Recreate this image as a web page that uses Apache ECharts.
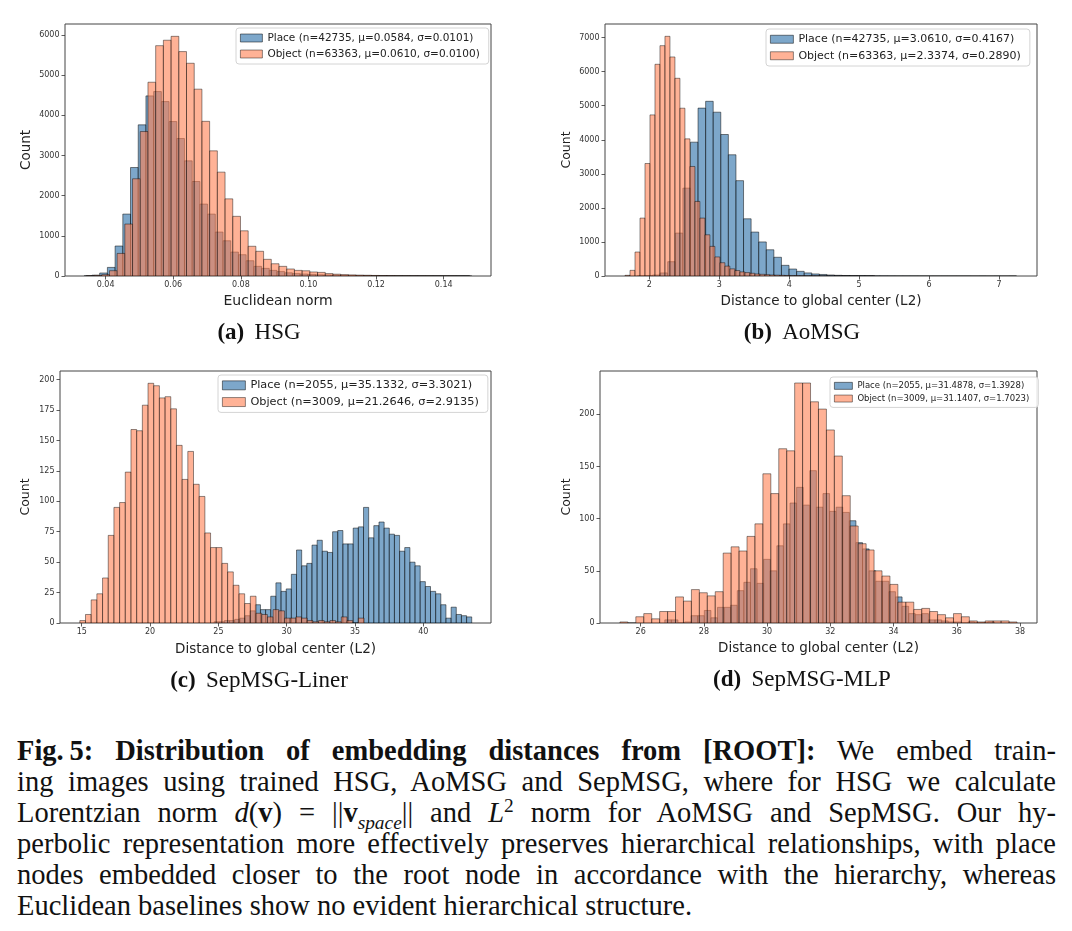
<!DOCTYPE html>
<html>
<head>
<meta charset="utf-8">
<title>Distribution of embedding distances from ROOT</title>
<script src="https://cdn.jsdelivr.net/npm/echarts@6/dist/echarts.min.js"></script>
<style>
  html, body { margin: 0; padding: 0; background: #fff; }
  #page { position: relative; width: 1072px; height: 931px; overflow: hidden; }
  #chart { position: absolute; left: 0; top: 0; width: 1072px; height: 700px; }
  .sub {
    position: absolute; transform: translate(-50%, -50%); white-space: nowrap;
    font-family: "Liberation Serif", serif; font-size: 23px; color: #111;
  }
  .sub b { margin-right: 0.45em; }
  #caption {
    position: absolute; left: 17px; top: 735px; width: 1039px;
    font-family: "Liberation Serif", serif; font-size: 28.5px; line-height: 31px; color: #111;
  }
  #caption div { text-align: justify; text-align-last: justify; }
  #caption div.last { text-align-last: left; }
  #caption sub, #caption sup { font-size: 0.68em; line-height: 0; }
</style>
</head>
<body>
<div id="page">
  <div id="chart"></div>
  <div class="sub" style="left:259px; top:332px;"><b>(a)</b>HSG</div>
  <div class="sub" style="left:802px; top:332px;"><b>(b)</b>AoMSG</div>
  <div class="sub" style="left:259px; top:680px;"><b>(c)</b>SepMSG-Liner</div>
  <div class="sub" style="left:802px; top:679px;"><b>(d)</b>SepMSG-MLP</div>
  <div id="caption">
    <div><b>Fig.&#8201;5: Distribution of embedding distances from [ROOT]:</b> We embed train-</div>
    <div>ing images using trained HSG, AoMSG and SepMSG, where for HSG we calculate</div>
    <div>Lorentzian norm <i>d</i>(<b>v</b>) = ||<b>v</b><sub><i>space</i></sub>|| and <i>L</i><sup>2</sup> norm for AoMSG and SepMSG. Our hy-</div>
    <div>perbolic representation more effectively preserves hierarchical relationships, with place</div>
    <div>nodes embedded closer to the root node in accordance with the hierarchy, whereas</div>
    <div class="last">Euclidean baselines show no evident hierarchical structure.</div>
  </div>
</div>

<script>
// ---- data ----
// bins: [first edge, bin width]; counts: one value per bin (50 bins each)
const hsgPlaceBins = [0.0337, 0.00228];
const hsgPlaceCounts = [5, 20, 75, 214, 746, 1541, 2700, 3762, 4483, 4590,
  4341, 3844, 3421, 2866, 2352, 1790, 1541, 1094, 877, 596,
  530, 380, 240, 190, 140, 110, 80, 60, 50, 40,
  30, 25, 20, 15, 12, 10, 8, 6, 5, 4,
  3, 3, 2, 2, 1, 1, 1, 1, 1, 1];
const hsgObjectBins = [0.0343, 0.00228];
const hsgObjectCounts = [5, 15, 35, 132, 562, 1293, 2420, 3595, 4823, 5733,
  5868, 5965, 5585, 5295, 4650, 3850, 3115, 2585, 1920, 1485,
  1125, 740, 615, 415, 305, 240, 175, 140, 130, 100,
  90, 60, 45, 35, 28, 22, 18, 14, 10, 8,
  6, 5, 4, 3, 3, 2, 2, 2, 1, 1];

const aomsgPlaceBins = [1.83, 0.1084];
const aomsgPlaceCounts = [2, 10, 30, 90, 420, 1260, 2580, 3930, 4930, 5130,
  4810, 4155, 3560, 2800, 1680, 1290, 1000, 770, 550, 313,
  205, 137, 90, 60, 45, 30, 20, 15, 10, 8,
  6, 5, 4, 3, 2, 2, 2, 1, 1, 1,
  1, 1, 1, 1, 0, 1, 0, 1, 0, 1];
const aomsgObjectBins = [1.653, 0.0714];
const aomsgObjectCounts = [20, 166, 704, 1700, 3304, 4731, 6217, 6764, 7038, 6432,
  5806, 4927, 4027, 3216, 2190, 1700, 1210, 870, 560, 390,
  290, 210, 160, 120, 100, 80, 60, 50, 40, 30,
  25, 20, 16, 13, 11, 9, 8, 7, 6, 5,
  4, 4, 3, 3, 2, 2, 2, 1, 1, 1];

const linerPlaceBins = [24.685, 0.3771];
const linerPlaceCounts = [1, 1, 2, 2, 3, 4, 6, 10, 15, 11,
  11, 22, 33, 26, 28, 40, 60, 47, 49, 64,
  68, 59, 58, 75, 76, 65, 65, 78, 79, 95,
  70, 80, 83, 78, 73, 72, 59, 62, 50, 47,
  34, 30, 26, 24, 15, 4, 13, 7, 6, 5];
const linerObjectBins = [14.86, 0.416];
const linerObjectCounts = [2, 7, 19, 24, 37, 72, 95, 99, 124, 159,
  158, 179, 197, 195, 185, 186, 176, 146, 118, 141,
  114, 104, 74, 62, 62, 49, 42, 31, 24, 16,
  22, 8, 7, 5, 11, 10, 4, 4, 5, 4,
  2, 1, 2, 1, 2, 1, 5, 2, 0, 4];

const mlpPlaceBins = [26.763, 0.2085];
const mlpPlaceCounts = [3, 3, 0, 1, 7, 7, 12, 5, 15, 15,
  17, 31, 39, 52, 38, 61, 50, 74, 95, 115,
  130, 113, 146, 111, 124, 107, 111, 106, 98, 77,
  71, 50, 40, 40, 30, 25, 16, 9, 8, 9,
  3, 3, 2, 1, 1, 0, 1, 0, 0, 1];
const mlpObjectBins = [25.345, 0.2512];
const mlpObjectCounts = [1, 0, 6, 9, 4, 11, 11, 25, 21, 32,
  29, 26, 30, 67, 73, 69, 83, 95, 143, 124,
  167, 165, 230, 230, 212, 205, 185, 160, 122, 93,
  76, 70, 50, 45, 37, 20, 20, 13, 14, 11,
  8, 5, 9, 6, 2, 1, 2, 2, 2, 1];

// axis ranges and tick labels
const hsgRange = [0.0280, 0.1540, 6272];
const aomsgRange = [1.367, 7.543, 7400];
const linerRange = [13.41, 44.95, 207.1];
const mlpRange = [24.714, 38.537, 241.5];
const hsgTicksX = [0.04, 0.06, 0.08, 0.10, 0.12, 0.14];
const hsgTicksY = [0, 1000, 2000, 3000, 4000, 5000, 6000];
const aomsgTicksX = [2, 3, 4, 5, 6, 7];
const aomsgTicksY = [0, 1000, 2000, 3000, 4000, 5000, 6000, 7000];
const linerTicksX = [15, 20, 25, 30, 35, 40];
const linerTicksY = [0, 25, 50, 75, 100, 125, 150, 175, 200];
const mlpTicksX = [26, 28, 30, 32, 34, 36, 38];
const mlpTicksY = [0, 50, 100, 150, 200];

const legendPlace = ['Place (n=42735, μ=0.0584, σ=0.0101)', 'Place (n=42735, μ=3.0610, σ=0.4167)',
  'Place (n=2055, μ=35.1332, σ=3.3021)', 'Place (n=2055, μ=31.4878, σ=1.3928)'];
const legendObject = ['Object (n=63363, μ=0.0610, σ=0.0100)', 'Object (n=63363, μ=2.3374, σ=0.2890)',
  'Object (n=3009, μ=21.2646, σ=2.9135)', 'Object (n=3009, μ=31.1407, σ=1.7023)'];
const xNames = ['Euclidean norm', 'Distance to global center (L2)',
  'Distance to global center (L2)', 'Distance to global center (L2)'];

// ---- styles ----
const PLACE_FILL = 'rgba(70,130,180,0.7)';
const OBJECT_FILL = 'rgba(255,127,80,0.6)';
const PLACE_EDGE = 'rgba(0,0,0,0.62)';
const OBJECT_EDGE = 'rgba(0,0,0,0.55)';
const SANS = 'DejaVu Sans';

const panels = [
  { grid: { left: 65, top: 24, width: 426, height: 252 }, range: hsgRange, tx: hsgTicksX, ty: hsgTicksY,
    fmt: v => v.toFixed(2), xName: 14, yName: 13.5, xGap: 18, yGap: 32,
    legend: { left: 236, top: 28, font: 10.5, iw: 22, ih: 8, gap: 4, lh: 12 } },
  { grid: { left: 605, top: 24, width: 432, height: 252 }, range: aomsgRange, tx: aomsgTicksX, ty: aomsgTicksY,
    fmt: v => String(v), xName: 13.5, yName: 12.5, xGap: 18, yGap: 32,
    legend: { left: 766, top: 29, font: 11, iw: 23, ih: 8, gap: 4, lh: 12.5 } },
  { grid: { left: 60, top: 371, width: 431, height: 252 }, range: linerRange, tx: linerTicksX, ty: linerTicksY,
    fmt: v => String(v), xName: 13.5, yName: 12.5, xGap: 19, yGap: 28,
    legend: { left: 218, top: 375, font: 11.3, iw: 23, ih: 9, gap: 4, lh: 12.7 } },
  { grid: { left: 600, top: 371, width: 437, height: 252 }, range: mlpRange, tx: mlpTicksX, ty: mlpTicksY,
    fmt: v => String(v), xName: 13.5, yName: 12.5, xGap: 18.5, yGap: 27,
    legend: { left: 830, top: 377, font: 8.5, iw: 18, ih: 7, gap: 3, lh: 9.7 } }
];

const histData = [
  [hsgPlaceBins, hsgPlaceCounts, hsgObjectBins, hsgObjectCounts],
  [aomsgPlaceBins, aomsgPlaceCounts, aomsgObjectBins, aomsgObjectCounts],
  [linerPlaceBins, linerPlaceCounts, linerObjectBins, linerObjectCounts],
  [mlpPlaceBins, mlpPlaceCounts, mlpObjectBins, mlpObjectCounts]
];

function toBars(bins, counts) {
  return counts.map((c, i) => [bins[0] + i * bins[1], bins[0] + (i + 1) * bins[1], c]);
}

function histSeries(name, idx, bins, counts, fill, edge) {
  return {
    type: 'custom',
    name: name,
    xAxisIndex: idx,
    yAxisIndex: idx,
    clip: true,
    encode: { x: [0, 1], y: 2 },
    itemStyle: { color: fill, borderColor: edge, borderWidth: 0.8 },
    data: toBars(bins, counts),
    renderItem: function (params, api) {
      const top = api.coord([api.value(0), api.value(2)]);
      const base = api.coord([api.value(1), 0]);
      return {
        type: 'rect',
        shape: { x: top[0], y: top[1], width: base[0] - top[0], height: base[1] - top[1] },
        style: { fill: fill, stroke: edge, lineWidth: 0.8 }
      };
    }
  };
}

const option = {
  animation: false,
  backgroundColor: '#fff',
  grid: panels.map(p => Object.assign({
    show: true, borderColor: '#444', borderWidth: 1, backgroundColor: 'transparent'
  }, p.grid)),
  xAxis: panels.map((p, i) => ({
    type: 'value', gridIndex: i, min: p.range[0], max: p.range[1],
    name: xNames[i], nameLocation: 'middle', nameGap: p.xGap,
    nameTextStyle: { fontFamily: SANS, fontSize: p.xName, color: '#222' },
    axisLine: { show: false },
    splitLine: { show: false },
    axisTick: { show: true, inside: false, length: 3.5, customValues: p.tx, lineStyle: { color: '#333', width: 0.8 } },
    axisLabel: { customValues: p.tx, formatter: p.fmt, margin: 5, fontFamily: SANS, fontSize: 8, color: '#333' }
  })),
  yAxis: panels.map((p, i) => ({
    type: 'value', gridIndex: i, min: 0, max: p.range[2],
    name: 'Count', nameLocation: 'middle', nameGap: p.yGap,
    nameTextStyle: { fontFamily: SANS, fontSize: p.yName, color: '#222' },
    axisLine: { show: false },
    splitLine: { show: false },
    axisTick: { show: true, inside: false, length: 3.5, customValues: p.ty, lineStyle: { color: '#333', width: 0.8 } },
    axisLabel: { customValues: p.ty, formatter: v => String(v), margin: 5.5, fontFamily: SANS, fontSize: 8, color: '#333' }
  })),
  legend: panels.map((p, i) => ({
    orient: 'vertical',
    left: p.legend.left,
    top: p.legend.top,
    icon: 'rect',
    itemWidth: p.legend.iw,
    itemHeight: p.legend.ih,
    itemGap: p.legend.gap,
    selectedMode: false,
    padding: [4, 9, 4, 4],
    backgroundColor: 'rgba(255,255,255,0.85)',
    borderColor: '#d4d4d4',
    borderWidth: 1,
    borderRadius: 3,
    textStyle: { fontFamily: SANS, fontSize: p.legend.font, lineHeight: p.legend.lh, color: '#222' },
    data: [
      { name: legendPlace[i], itemStyle: { color: PLACE_FILL, borderColor: PLACE_EDGE, borderWidth: 0.8 } },
      { name: legendObject[i], itemStyle: { color: OBJECT_FILL, borderColor: OBJECT_EDGE, borderWidth: 0.8 } }
    ]
  })),
  series: []
};

histData.forEach((d, i) => {
  option.series.push(histSeries(legendPlace[i], i, d[0], d[1], PLACE_FILL, PLACE_EDGE));
  option.series.push(histSeries(legendObject[i], i, d[2], d[3], OBJECT_FILL, OBJECT_EDGE));
});

const chart = echarts.init(document.getElementById('chart'), null, { renderer: 'canvas' });
chart.setOption(option);
</script>
</body>
</html>
